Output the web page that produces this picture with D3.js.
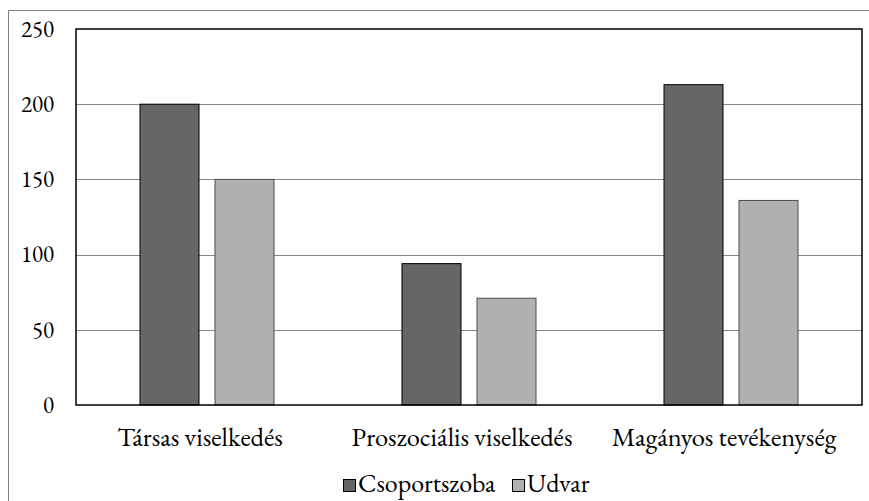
<!DOCTYPE html>
<html><head><meta charset="utf-8">
<script src="https://cdn.jsdelivr.net/npm/d3@7"></script>
<style>body{margin:0;background:#fff}svg{display:block}</style>
</head><body>
<svg id="c" width="869" height="501"></svg>
<script>
const categories = ["Társas viselkedés", "Proszociális viselkedés", "Magányos tevékenység"];
const seriesNames = ["Csoportszoba", "Udvar"];
const csoportszoba = [200, 94, 213];
const udvar = [150, 71, 136];
const yTicks = [0, 50, 100, 150, 200, 250];
const colors = ["#666666", "#b0b0b0"];
const strokes = ["#000000", "#4d4d4d"];

const svg = d3.select("#c");
const font = '"EB Garamond", "Liberation Serif", serif';
const L = 76, R = 862, T = 29, B = 405;

// outer frame
svg.append("path").attr("d", "M8.5,501 V10.5 H869").attr("fill","none").attr("stroke","#7f7f7f").attr("stroke-width",1);

const x = d3.scaleBand().domain(categories).range([L, R]);
const y = d3.scaleLinear().domain([0, 250]).range([B, T]);
const barW = 59, gap = 16;

// gridlines
svg.append("g").selectAll("line").data(yTicks.filter(d => d>0 && d<250)).join("line")
  .attr("x1", L).attr("x2", R).attr("y1", d => Math.round(y(d))+0.5).attr("y2", d => Math.round(y(d))+0.5)
  .attr("stroke", "#888").attr("stroke-width", 1);

const data = [csoportszoba, udvar];
data.forEach((vals, s) => {
  svg.append("g").selectAll("rect").data(vals).join("rect")
    .attr("x", (d,i) => x(categories[i]) + x.bandwidth()/2 - (barW + gap/2) + s*(barW+gap))
    .attr("y", d => y(d))
    .attr("width", barW)
    .attr("height", d => B - y(d))
    .attr("fill", colors[s]).attr("stroke", strokes[s]).attr("stroke-width", 1);
});

// plot border
svg.append("rect").attr("x", L).attr("y", T).attr("width", R-L).attr("height", B-T)
  .attr("fill","none").attr("stroke","#000").attr("stroke-width",1.5);

// y tick labels
const yAxis = d3.axisLeft(y).tickValues(yTicks).tickSize(0).tickPadding(0);
const ga = svg.append("g").attr("transform", `translate(${L-22},0)`).call(yAxis);
ga.select(".domain").remove();
ga.attr("font-family", null).attr("font-size", null);
ga.selectAll("text").style("font-family", font).style("font-size", "23px").attr("fill","#000").attr("dy", "0.32em");

// category labels
const xAxis = d3.axisBottom(x).tickSize(0).tickPadding(0);
const gx = svg.append("g").attr("transform", `translate(-7,${B+41})`).call(xAxis);
gx.select(".domain").remove();
gx.attr("font-family", null).attr("font-size", null);
gx.selectAll("text").style("font-family", font).style("font-size", "26.5px").attr("fill","#000").attr("dy", 0);

// legend
const legX = [343, 512];
seriesNames.forEach((n, i) => {
  svg.append("rect").attr("x", legX[i]+0.5).attr("y", 479.5).attr("width", 12).attr("height", 12)
    .attr("fill", colors[i]).attr("stroke", "#000").attr("stroke-width", 1);
  svg.append("text").attr("x", legX[i]+15).attr("y", 492).style("font-family", font).style("font-size", "26px")
    .attr("fill","#000").text(n);
});
</script>
</body></html>
